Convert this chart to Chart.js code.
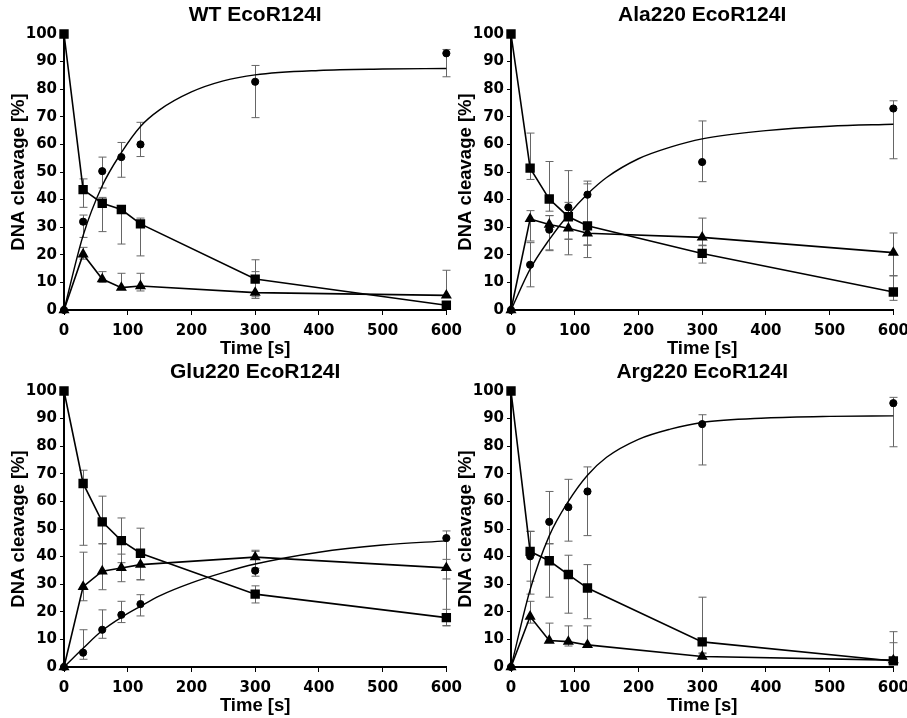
<!DOCTYPE html>
<html lang="en">
<head>
  <meta charset="UTF-8">
  <title>EcoR124I DNA cleavage</title>
  <script src="https://cdn.jsdelivr.net/npm/chart.js@4"></script>
  <style>
    body {
      margin: 0;
      background: #fff;
      width: 907px;
      height: 718px;
      overflow: hidden;
      position: relative;
    }
    canvas {
      position: absolute;
    }
  </style>
</head>
<body>

<canvas id="wtChart" width="469" height="361" style="left:0;top:0"></canvas>
<canvas id="alaChart" width="469" height="361" style="left:447px;top:0"></canvas>
<canvas id="gluChart" width="469" height="361" style="left:0;top:357px"></canvas>
<canvas id="argChart" width="469" height="361" style="left:447px;top:357px"></canvas>

<script>
  // sampling times (s)
  const timeS = [0, 30, 60, 90, 120, 300, 600];
  const curveT = [0, 30, 60, 90, 120, 150, 200, 250, 300, 400, 500, 600];

  // errors are [minus, plus]
  // WT EcoR124I
  const wtProduct = [0, 32, 50.3, 55.4, 60, 82.7, 93];
  const wtProductErr = [[0, 0], [5.7, 2.4], [6.1, 5.1], [7.3, 5.3], [4.4, 8], [13, 5.9], [8.5, 1.4]];
  const wtSubstrate = [100, 43.6, 38.7, 36.4, 31.2, 11.2, 1.7];
  const wtSubstrateErr = [[0, 0], [6.4, 3.9], [10.3, 2.1], [12.5, 1.3], [11.6, 2.1], [7, 7], [0, 0]];
  const wtIntermediate = [0, 20.2, 11.2, 8.1, 8.7, 6.3, 5.3];
  const wtIntermediateErr = [[0, 0], [1.8, 2.5], [1.2, 2.7], [0.6, 5.2], [1.8, 4.6], [1.5, 7.6], [0, 9.1]];
  const wtCurve = [0, 27, 45, 57, 66.5, 72.5, 79, 83, 85.2, 86.8, 87.3, 87.5];

  // Ala220 EcoR124I
  const alaProduct = [0, 16.4, 29.1, 37.2, 41.8, 53.6, 73];
  const alaProductErr = [[0, 0], [8, 8], [7.6, 5.1], [11.5, 1.8], [18.3, 4.9], [7.1, 14.9], [18.2, 2.8]];
  const alaSubstrate = [100, 51.4, 40.2, 33.8, 30.5, 20.5, 6.5];
  const alaSubstrateErr = [[0, 0], [4.1, 12.7], [4.4, 13.6], [13.8, 16.7], [11.5, 15.2], [3.5, 3], [3, 5.9]];
  const alaIntermediate = [0, 33, 31, 29.6, 27.8, 26.3, 20.8];
  const alaIntermediateErr = [[0, 0], [8, 3], [9.2, 3.2], [4, 5], [4.3, 3], [3, 7], [8.4, 7.1]];
  const alaCurve = [0, 14.8, 25.5, 34.5, 42, 48, 54.8, 59, 62, 65, 66.6, 67.3];

  // Glu220 EcoR124I
  const gluProduct = [0, 5.2, 13.5, 18.9, 22.8, 34.9, 46.7];
  const gluProductErr = [[0, 0], [2.4, 8.3], [3.1, 7.2], [2.8, 4.9], [4.3, 3.4], [2, 7], [31.7, 2.6]];
  const gluSubstrate = [100, 66.5, 52.6, 45.8, 41.2, 26.4, 17.9];
  const gluSubstrateErr = [[0, 0], [22.4, 4.8], [8, 9.3], [8, 8.2], [9.6, 9.1], [3.2, 3], [3, 3]];
  const gluIntermediate = [0, 29.1, 34.7, 35.9, 37.1, 39.8, 35.9];
  const gluIntermediateErr = [[0, 0], [5.1, 12.5], [6.7, 10], [5, 5], [5.5, 5], [4, 2.5], [4, 3.1]];
  const gluCurve = [0, 6.8, 13.2, 18, 22, 25.8, 30.5, 34.2, 37.3, 41.6, 44.2, 45.7];

  // Arg220 EcoR124I
  const argProduct = [0, 40.1, 52.6, 57.9, 63.6, 88, 95.6];
  const argProductErr = [[0, 0], [9, 9], [8, 11], [12.3, 10.1], [16, 8.9], [14.8, 3.4], [15.8, 2.1]];
  const argSubstrate = [100, 41.9, 38.5, 33.5, 28.6, 9.1, 2.2];
  const argSubstrateErr = [[0, 0], [15.5, 7.3], [13.2, 6.2], [14, 7], [11.1, 8.5], [4, 16.2], [0, 10.6]];
  const argIntermediate = [0, 18.3, 9.6, 9.2, 8, 3.8, 2.5];
  const argIntermediateErr = [[0, 0], [2.4, 5.5], [0.5, 6.3], [1.6, 5.7], [0.5, 6.9], [0.5, 1], [0.5, 6.3]];
  const argCurve = [0, 28, 47.5, 60, 69.5, 76, 82.5, 86.2, 88.6, 90.2, 90.8, 91];

  const tickFont = { family: 'DejaVu Sans', size: 15, weight: 'bold' };
  const labelFont = { family: 'Liberation Sans', size: 18.5, weight: 'bold' };

  // draws the vertical error bars under the markers
  const errorBarPlugin = {
    id: 'errorBars',
    beforeDatasetsDraw(chart) {
      const ctx = chart.ctx, xs = chart.scales.x, ys = chart.scales.y;
      ctx.save();
      ctx.strokeStyle = '#666';
      ctx.lineWidth = 1;
      chart.data.datasets.forEach(ds => {
        if (!ds.errors) return;
        ds.data.forEach((p, i) => {
          const [lo, hi] = ds.errors[i];
          if (!lo && !hi) return;
          const px = Math.round(xs.getPixelForValue(p.x)) + 0.5;
          const top = ys.getPixelForValue(p.y + hi);
          const bot = ys.getPixelForValue(Math.max(0, p.y - lo));
          ctx.beginPath();
          ctx.moveTo(px, top);
          ctx.lineTo(px, bot);
          if (hi) { ctx.moveTo(px - 4, top); ctx.lineTo(px + 4, top); }
          if (lo) { ctx.moveTo(px - 4, bot); ctx.lineTo(px + 4, bot); }
          ctx.stroke();
        });
      });
      ctx.restore();
    }
  };

  // panel title, centred over the plot area
  const panelTitlePlugin = {
    id: 'panelTitle',
    afterDraw(chart, args, opts) {
      const ctx = chart.ctx, area = chart.chartArea;
      ctx.save();
      ctx.fillStyle = '#000';
      ctx.font = 'bold 21px "Liberation Sans"';
      ctx.textAlign = 'center';
      ctx.textBaseline = 'middle';
      ctx.fillText(opts.text, (area.left + area.right) / 2, 15);
      ctx.restore();
    }
  };

  function pts(xs, ys) {
    return xs.map((x, i) => ({ x: x, y: ys[i] }));
  }

  function makePanel(id, title, product, productErr, substrate, substrateErr, intermediate, intermediateErr, curve) {
    new Chart(document.getElementById(id), {
      type: 'scatter',
      data: {
        datasets: [
          {
            label: 'Product',
            data: pts(timeS, product),
            errors: productErr,
            showLine: false,
            pointStyle: 'circle',
            pointRadius: 3.6,
            backgroundColor: '#000',
            borderColor: '#000',
            clip: false
          },
          {
            label: 'Substrate',
            data: pts(timeS, substrate),
            errors: substrateErr,
            showLine: true,
            pointStyle: 'rect',
            pointRadius: 5.5,
            borderWidth: 1.6,
            backgroundColor: '#000',
            borderColor: '#000',
            clip: false
          },
          {
            label: 'Intermediate',
            data: pts(timeS, intermediate),
            errors: intermediateErr,
            showLine: true,
            pointStyle: 'triangle',
            pointRadius: 4.8,
            borderWidth: 1.6,
            backgroundColor: '#000',
            borderColor: '#000',
            clip: false
          },
          {
            label: 'Fit',
            data: pts(curveT, curve),
            showLine: true,
            pointRadius: 0,
            borderWidth: 1.4,
            borderColor: '#000',
            cubicInterpolationMode: 'monotone',
            clip: false
          }
        ]
      },
      options: {
        responsive: false,
        animation: false,
        layout: { padding: { left: 0, right: 16, top: 34, bottom: 0 } },
        plugins: {
          legend: { display: false },
          tooltip: { enabled: false },
          title: { display: false },
          panelTitle: { text: title }
        },
        scales: {
          x: {
            type: 'linear',
            min: 0,
            max: 600,
            afterFit: s => { s.height = 51; },
            ticks: { stepSize: 100, color: '#000', font: tickFont, padding: 7, maxRotation: 0 },
            grid: { drawOnChartArea: false, color: '#000', tickColor: '#000', tickLength: 5 },
            border: { color: '#000', width: 2 },
            title: { display: true, text: 'Time [s]', color: '#000', font: labelFont, padding: { top: 0, bottom: 1 } }
          },
          y: {
            min: 0,
            max: 100,
            afterFit: s => { s.width = 64; },
            ticks: { stepSize: 10, color: '#000', font: tickFont, padding: 3 },
            grid: { drawOnChartArea: false, color: '#000', tickColor: '#000', tickLength: 4 },
            border: { color: '#000', width: 2 },
            title: { display: true, text: 'DNA cleavage [%]', color: '#000', font: labelFont, padding: { top: 8, bottom: 0 } }
          }
        }
      },
      plugins: [errorBarPlugin, panelTitlePlugin]
    });
  }

  makePanel('wtChart', 'WT EcoR124I', wtProduct, wtProductErr, wtSubstrate, wtSubstrateErr, wtIntermediate, wtIntermediateErr, wtCurve);
  makePanel('alaChart', 'Ala220 EcoR124I', alaProduct, alaProductErr, alaSubstrate, alaSubstrateErr, alaIntermediate, alaIntermediateErr, alaCurve);
  makePanel('gluChart', 'Glu220 EcoR124I', gluProduct, gluProductErr, gluSubstrate, gluSubstrateErr, gluIntermediate, gluIntermediateErr, gluCurve);
  makePanel('argChart', 'Arg220 EcoR124I', argProduct, argProductErr, argSubstrate, argSubstrateErr, argIntermediate, argIntermediateErr, argCurve);
</script>

</body>
</html>
